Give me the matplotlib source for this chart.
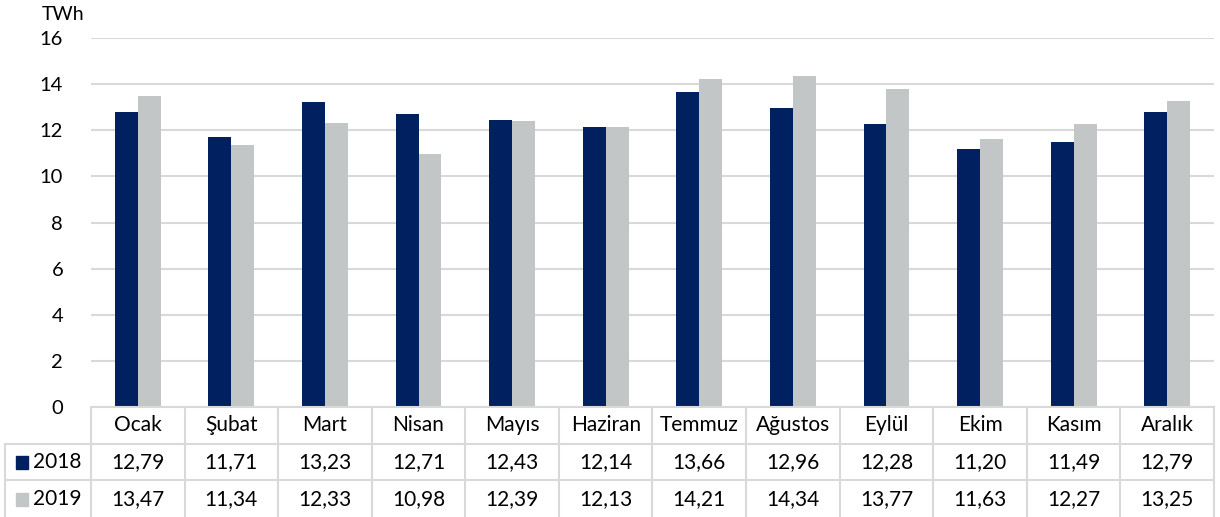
import matplotlib.pyplot as plt
import numpy as np
from matplotlib.patches import Rectangle

plt.rcParams['font.family'] = ['Lato', 'DejaVu Sans']

# data
months = ['Ocak', 'Şubat', 'Mart', 'Nisan', 'Mayıs', 'Haziran', 'Temmuz',
          'Ağustos', 'Eylül', 'Ekim', 'Kasım', 'Aralık']
y2018 = [12.79, 11.71, 13.23, 12.71, 12.43, 12.14, 13.66, 12.96, 12.28, 11.20, 11.49, 12.79]
y2019 = [13.47, 11.34, 12.33, 10.98, 12.39, 12.13, 14.21, 14.34, 13.77, 11.63, 12.27, 13.25]
series = ['2018', '2019']
colors = ['#002060', '#C2C6C6']
grid_c = '#D9D9D9'

W, H = 1220, 517
fig = plt.figure(figsize=(W / 100, H / 100), dpi=100)

x0, x1 = 91, 1214
ytop, ybot = 38, 407
ax = fig.add_axes([x0 / W, 1 - ybot / H, (x1 - x0) / W, (ybot - ytop) / H])
x = np.arange(len(months))
bw = 0.245
ax.bar(x - bw / 2, y2018, bw, color=colors[0], zorder=3)
ax.bar(x + bw / 2, y2019, bw, color=colors[1], zorder=3)
ax.set_xlim(-0.5, len(months) - 0.5)
ax.set_ylim(0, 16)
ax.set_yticks(np.arange(0, 17, 2))
ax.set_xticks([])
ax.tick_params(axis='y', length=0, pad=20, labelsize=14.5)
ax.grid(axis='y', color=grid_c, linewidth=1.5, zorder=0)
for s in ax.spines.values():
    s.set_visible(False)
fig.text(42 / W, 1 - 15 / H, 'TWh', fontsize=14, va='center', ha='left')

# data table
tax = fig.add_axes([x0 / W, 0, (x1 - x0) / W, (H - ybot) / H])
tax.set_xlim(-0.5, len(months) - 0.5)
tax.set_ylim(3, 0)
tax.axis('off')
lw = 1.5
left = -0.5 - 86 / 93.6
tax.plot([-0.5, len(months) - 0.5], [0, 0], color=grid_c, lw=lw, clip_on=False)
for r in [1, 2]:
    tax.plot([left, len(months) - 0.5], [r, r], color=grid_c, lw=lw, clip_on=False)
for c in range(len(months) + 1):
    tax.plot([c - 0.5, c - 0.5], [0, 3], color=grid_c, lw=lw, clip_on=False)
tax.plot([left, left], [1, 3], color=grid_c, lw=lw, clip_on=False)

fs = 15
for i, m in enumerate(months):
    tax.text(i, 0.5, m, ha='center', va='center', fontsize=fs)
    tax.text(i, 1.5, f'{y2018[i]:.2f}'.replace('.', ','), ha='center', va='center', fontsize=fs)
    tax.text(i, 2.5, f'{y2019[i]:.2f}'.replace('.', ','), ha='center', va='center', fontsize=fs)

# legend keys in the left column
lax = fig.add_axes([0, 0, 1, 1])
lax.set_xlim(0, W)
lax.set_ylim(H, 0)
lax.axis('off')
for k, (name, col) in enumerate(zip(series, colors)):
    yc = 462 + k * 37
    lax.add_patch(Rectangle((16, yc - 6.5), 12, 13, color=col))
    lax.text(33, yc, name, va='center', ha='left', fontsize=fs)

fig.savefig('out.png', dpi=100)
